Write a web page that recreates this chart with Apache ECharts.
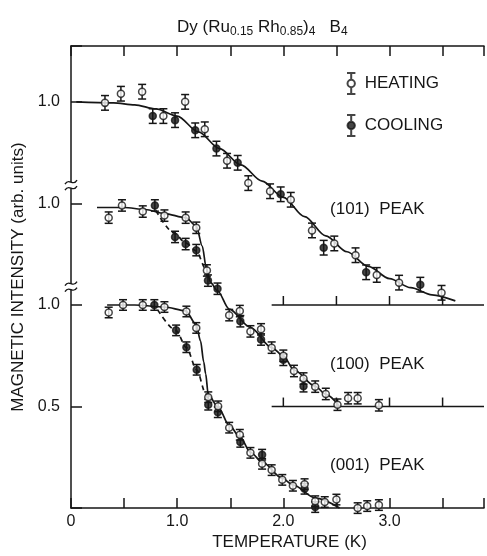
<!DOCTYPE html>
<html><head><meta charset="utf-8">
<script src="https://cdn.jsdelivr.net/npm/echarts@6/dist/echarts.min.js"></script>
<style>html,body{margin:0;padding:0;background:#fff}#c{width:487px;height:556px}</style>
</head><body><div id="c"></div>
<script>
const FONT = 'Liberation Sans';
const INK = '#161616';

// ---- (101) peak (plotted with vertical offset 1.0) ----
const p101HeatT = [0.32,0.47,0.67,0.87,1.075,1.26,1.47,1.67,1.875,2.07,2.27,2.48,2.68,2.88,3.09,3.49];
const p101HeatI = [0.995,1.04,1.05,0.93,1.00,0.865,0.71,0.60,0.56,0.518,0.367,0.303,0.245,0.148,0.11,0.06];
const p101CoolT = [0.77,0.98,1.17,1.37,1.57,1.975,2.38,2.78,3.29];
const p101CoolI = [0.93,0.91,0.86,0.77,0.70,0.545,0.282,0.161,0.10];
const p101FitT = [0.05,0.4,0.6,0.8,1.0,1.2,1.4,1.6,1.8,2.0,2.2,2.4,2.6,2.8,3.0,3.2,3.4,3.62];
const p101FitI = [1.00,0.995,0.985,0.965,0.93,0.852,0.77,0.69,0.61,0.53,0.435,0.34,0.262,0.19,0.13,0.085,0.05,0.02];

// ---- (100) peak (offset 0.5) ----
const p100HeatT = [0.355,0.48,0.676,0.88,1.08,1.18,1.28,1.49,1.59,1.69,1.79,1.89,2.0,2.1,2.19,2.30,2.40,2.51,2.61,2.70,2.90];
const p100HeatI = [0.93,0.99,0.96,0.94,0.93,0.88,0.67,0.45,0.47,0.37,0.38,0.29,0.25,0.175,0.138,0.098,0.062,0.009,0.041,0.041,0.006];
const p100CoolT = [0.79,0.98,1.08,1.18,1.29,1.38,1.595,1.79,2.0,2.19];
const p100CoolI = [0.99,0.835,0.80,0.77,0.62,0.58,0.42,0.33,0.23,0.10];
const p100FitT = [0.245,0.5,0.7,0.88,1.08,1.18,1.236,1.275,1.315,1.38,1.49,1.69,1.89,2.0,2.1,2.3,2.40,2.53];
const p100FitI = [0.98,0.98,0.97,0.95,0.93,0.89,0.79,0.68,0.61,0.57,0.48,0.39,0.29,0.25,0.18,0.10,0.06,0.0];
const p100CoolFitT = [0.80,0.97,1.08,1.18,1.27,1.30];
const p100CoolFitI = [0.965,0.855,0.806,0.766,0.677,0.63];

// ---- (001) peak (offset 0) ----
const p001HeatT = [0.355,0.49,0.676,0.88,1.087,1.18,1.293,1.386,1.49,1.59,1.69,1.80,1.89,1.99,2.09,2.20,2.30,2.39,2.50,2.70,2.79,2.90];
const p001HeatI = [0.963,1.00,1.00,0.99,0.968,0.887,0.546,0.501,0.396,0.361,0.272,0.218,0.187,0.139,0.11,0.118,0.034,0.03,0.042,0.0,0.01,0.015];
const p001CoolT = [0.785,0.99,1.087,1.184,1.293,1.383,1.595,1.80,2.20,2.30];
const p001CoolI = [1.00,0.875,0.792,0.681,0.509,0.472,0.326,0.263,0.095,0.005];
const p001FitT = [0.34,0.6,0.88,1.08,1.18,1.22,1.25,1.268,1.293,1.39,1.49,1.595,1.69,1.80,1.99,2.09,2.30,2.53];
const p001FitI = [1.00,1.00,0.99,0.971,0.903,0.823,0.72,0.662,0.557,0.493,0.407,0.348,0.275,0.227,0.147,0.114,0.05,0.0];
const p001CoolFitT = [0.816,0.99,1.087,1.184,1.268,1.293];
const p001CoolFitI = [0.976,0.874,0.79,0.681,0.565,0.52];

// offsets & error bar half-widths (intensity units)
const peakOffsets = [1.0, 0.5, 0.0];
const peakErrors = [0.036, 0.028, 0.026];
const peakNames = ['(101)  PEAK', '(100)  PEAK', '(001)  PEAK'];
const peakLabelLevels = [0.469, 0.21, 0.213];

// tick labels
const xTickLabels = {0:'0', 1:'1.0', 2:'2.0', 3:'3.0'};
const yTickLabels = {0.5:'0.5', 1:'1.0', 1.5:'1.0', 2:'1.0'};
const axisBreaks = [1.09, 1.59];
const baseLineStart = 1.89;
const baseTicks = [2.0, 2.5, 3.0, 3.5];

const X_MAX = 3.89, Y_MAX = 2.275;

function pts(T, I, off) { return T.map((t, i) => [t, I[i] + off]); }
function errPts(T, I, off, e) { return T.map((t, i) => [t, I[i] + off, e]); }

const heatData = [].concat(
  pts(p101HeatT, p101HeatI, peakOffsets[0]),
  pts(p100HeatT, p100HeatI, peakOffsets[1]),
  pts(p001HeatT, p001HeatI, peakOffsets[2]));
const coolData = [].concat(
  pts(p101CoolT, p101CoolI, peakOffsets[0]),
  pts(p100CoolT, p100CoolI, peakOffsets[1]),
  pts(p001CoolT, p001CoolI, peakOffsets[2]));
const errData = [].concat(
  errPts(p101HeatT, p101HeatI, peakOffsets[0], peakErrors[0]),
  errPts(p101CoolT, p101CoolI, peakOffsets[0], peakErrors[0]),
  errPts(p100HeatT, p100HeatI, peakOffsets[1], peakErrors[1]),
  errPts(p100CoolT, p100CoolI, peakOffsets[1], peakErrors[1]),
  errPts(p001HeatT, p001HeatI, peakOffsets[2], peakErrors[2]),
  errPts(p001CoolT, p001CoolI, peakOffsets[2], peakErrors[2]));

const baseTickData = [];
[peakOffsets[0], peakOffsets[1]].forEach(o => baseTicks.forEach(t => baseTickData.push([t, o])));

const chart = echarts.init(document.getElementById('c'), null, {renderer: 'canvas'});

function lineSeries(data, dashed) {
  return {
    type: 'line', data: data, showSymbol: false, smooth: 0.3, smoothMonotone: 'x',
    silent: true, z: 3,
    lineStyle: {color: INK, width: 1.7, type: dashed ? [5, 4] : 'solid'}
  };
}

const errStyle = {stroke: INK, lineWidth: 1.5};
const ERR_ICON = 'path://M-4,-10L4,-10M0,-10L0,-3.5M-4,10L4,10M0,10L0,3.5M3.5,0A3.5,3.5,0,1,1,-3.5,0A3.5,3.5,0,1,1,3.5,0Z';

const option = {
  backgroundColor: '#fff',
  animation: false,
  title: {
    left: 172, top: 12,
    text: '{a|Dy (Ru}{b|0.15}{a| Rh}{b|0.85}{a|)}{b|4}{a|   B}{b|4}',
    textStyle: {
      fontWeight: 'normal',
      rich: {
        a: {fontFamily: FONT, fontSize: 17, fontWeight: 'normal', color: INK},
        b: {fontFamily: FONT, fontSize: 12, fontWeight: 'normal', color: INK, padding: [9, 0, 0, 0]}
      }
    }
  },
  legend: {
    data: [{name: 'HEATING', icon: ERR_ICON}, {name: 'COOLING', icon: ERR_ICON}],
    orient: 'vertical', left: 341, top: 67, itemWidth: 9, itemHeight: 21, itemGap: 19,
    selectedMode: false,
    textStyle: {fontFamily: FONT, fontSize: 17, color: INK, padding: [0, 0, 0, 4]}
  },
  grid: {left: 71, right: 0, top: 46, bottom: 39, containLabel: false},
  xAxis: [{
    type: 'value', min: 0, max: X_MAX, interval: 0.5, position: 'bottom',
    name: 'TEMPERATURE (K)', nameLocation: 'middle', nameGap: 21,
    nameTextStyle: {fontFamily: FONT, fontSize: 17, color: INK, padding: [0, 0, 0, 24]},
    axisLine: {lineStyle: {color: INK, width: 1.5}},
    axisTick: {inside: true, length: 10, lineStyle: {color: INK, width: 1.5}},
    axisLabel: {margin: 5, fontFamily: FONT, fontSize: 16, color: INK,
      formatter: v => (xTickLabels[v] !== undefined ? xTickLabels[v] : '')},
    splitLine: {show: false}
  }, {
    type: 'value', min: 0, max: X_MAX, interval: 0.5, position: 'top',
    axisLine: {lineStyle: {color: INK, width: 1.5}},
    axisTick: {inside: true, length: 10, lineStyle: {color: INK, width: 1.5}},
    axisLabel: {show: false}, splitLine: {show: false}
  }],
  yAxis: [{
    type: 'value', min: 0, max: Y_MAX, interval: 0.5,
    name: 'MAGNETIC INTENSITY (arb. units)', nameLocation: 'middle', nameGap: 32,
    nameTextStyle: {fontFamily: FONT, fontSize: 17, color: INK},
    axisLine: {lineStyle: {color: INK, width: 1.5}},
    axisTick: {inside: true, length: 11, lineStyle: {color: INK, width: 1.5}},
    axisLabel: {margin: 11, fontFamily: FONT, fontSize: 16, color: INK,
      formatter: v => (yTickLabels[v] !== undefined ? yTickLabels[v] : '')},
    splitLine: {show: false}
  }],
  series: [
    // baselines of shifted peaks
    {type: 'line', data: [[baseLineStart, peakOffsets[0]], [X_MAX, peakOffsets[0]]], showSymbol: false, silent: true,
      lineStyle: {color: INK, width: 1.5}, z: 2},
    {type: 'line', data: [[baseLineStart, peakOffsets[1]], [X_MAX, peakOffsets[1]]], showSymbol: false, silent: true,
      lineStyle: {color: INK, width: 1.5}, z: 2},
    {type: 'custom', data: baseTickData, encode: {x: 0, y: 1}, silent: true, z: 2, clip: false,
      renderItem: (p, api) => {
        const c = api.coord([api.value(0), api.value(1)]);
        return {type: 'line', shape: {x1: c[0], y1: c[1], x2: c[0], y2: c[1] - 9}, style: {stroke: INK, lineWidth: 1.5}};
      }},
    // fitted curves
    lineSeries(pts(p101FitT, p101FitI, peakOffsets[0]), false),
    lineSeries(pts(p100FitT, p100FitI, peakOffsets[1]), false),
    lineSeries(pts(p100CoolFitT, p100CoolFitI, peakOffsets[1]), true),
    lineSeries(pts(p001FitT, p001FitI, peakOffsets[2]), false),
    lineSeries(pts(p001CoolFitT, p001CoolFitI, peakOffsets[2]), true),
    // error bars
    {type: 'custom', data: errData, encode: {x: 0, y: 1}, silent: true, z: 4, clip: false,
      renderItem: (p, api) => {
        const x = api.value(0), y = api.value(1), e = api.value(2);
        const hi = api.coord([x, y + e]), lo = api.coord([x, y - e]);
        const w = 4;
        return {type: 'group', children: [
          {type: 'line', shape: {x1: hi[0], y1: hi[1], x2: lo[0], y2: lo[1]}, style: errStyle},
          {type: 'line', shape: {x1: hi[0] - w, y1: hi[1], x2: hi[0] + w, y2: hi[1]}, style: errStyle},
          {type: 'line', shape: {x1: lo[0] - w, y1: lo[1], x2: lo[0] + w, y2: lo[1]}, style: errStyle}
        ]};
      }},
    // points
    {name: 'COOLING', type: 'scatter', data: coolData, symbol: 'circle', symbolSize: 7, z: 5, clip: false,
      itemStyle: {color: INK, borderColor: INK, borderWidth: 1.5}},
    {name: 'HEATING', type: 'scatter', data: heatData, symbol: 'circle', symbolSize: 7, z: 6, clip: false,
      itemStyle: {color: '#fff', borderColor: INK, borderWidth: 1.5}},
    // axis break marks
    {type: 'custom', data: axisBreaks.map(b => [0, b]), encode: {x: 0, y: 1}, silent: true, z: 7, clip: false,
      renderItem: (p, api) => {
        const c = api.coord([api.value(0), api.value(1)]);
        const x = c[0], y = c[1];
        const tilde = dy => ({type: 'bezierCurve',
          shape: {x1: x - 6, y1: y + dy + 2, cpx1: x - 2, cpy1: y + dy - 5, cpx2: x + 2, cpy2: y + dy + 5, x2: x + 6, y2: y + dy - 2},
          style: {stroke: INK, lineWidth: 1.4, fill: null}});
        return {type: 'group', children: [
          {type: 'rect', shape: {x: x - 2, y: y - 3, width: 4, height: 6}, style: {fill: '#fff'}},
          tilde(-3), tilde(3)
        ]};
      }},
    // peak labels
    {type: 'custom', data: peakNames.map((n, i) => [2.44, peakOffsets[i] + peakLabelLevels[i]]), encode: {x: 0, y: 1},
      silent: true, z: 8, clip: false,
      renderItem: (p, api) => {
        const c = api.coord([api.value(0), api.value(1)]);
        return {type: 'text', x: c[0], y: c[1],
          style: {text: peakNames[p.dataIndex], fontFamily: FONT, fontSize: 17, fill: INK, verticalAlign: 'middle'}};
      }}
  ]
};
chart.setOption(option);
</script></body></html>
